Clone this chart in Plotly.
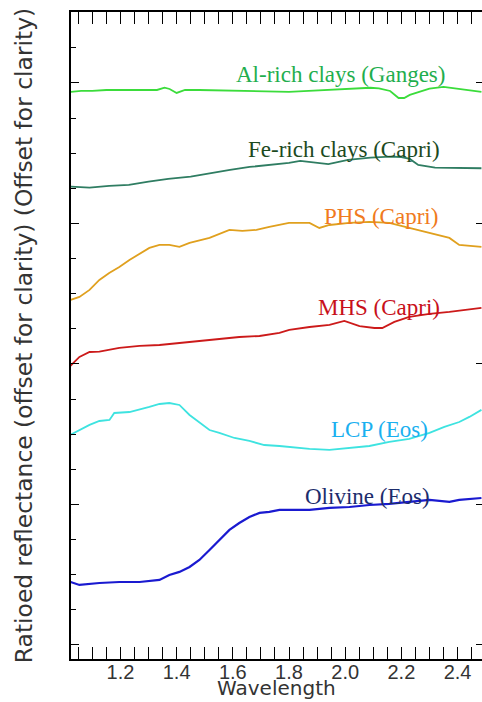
import plotly.graph_objects as go

# ---- data (wavelength in microns, ratioed reflectance offset for clarity) ----
al_wl = [1.022, 1.06, 1.10, 1.15, 1.20, 1.26, 1.33, 1.357, 1.375, 1.40, 1.43, 1.48, 1.55, 1.62,
         1.70, 1.80, 1.87, 1.95, 2.03, 2.09, 2.12, 2.16, 2.19, 2.21, 2.23, 2.27, 2.30, 2.35,
         2.40, 2.44, 2.485]
al_val = [3.936, 3.943, 3.943, 3.950, 3.950, 3.950, 3.950, 3.966, 3.957, 3.929, 3.950, 3.950,
          3.947, 3.943, 3.936, 3.936, 3.943, 3.950, 3.957, 3.966, 3.962, 3.943, 3.893, 3.893,
          3.915, 3.943, 3.960, 3.972, 3.957, 3.950, 3.936]

fe_wl = [1.022, 1.09, 1.16, 1.23, 1.30, 1.37, 1.45, 1.52, 1.59, 1.66, 1.73, 1.77, 1.80, 1.84,
         1.91, 1.94, 2.01, 2.09, 2.16, 2.20, 2.23, 2.26, 2.32, 2.39, 2.485]
fe_val = [3.262, 3.255, 3.267, 3.274, 3.298, 3.317, 3.333, 3.359, 3.381, 3.402, 3.416, 3.427,
          3.431, 3.445, 3.431, 3.423, 3.452, 3.468, 3.475, 3.473, 3.459, 3.416, 3.397, 3.397,
          3.393]

phs_wl = [1.022, 1.054, 1.09, 1.125, 1.16, 1.196, 1.232, 1.268, 1.303, 1.339, 1.374, 1.41,
          1.446, 1.517, 1.588, 1.634, 1.684, 1.73, 1.766, 1.80, 1.873, 1.908, 1.944, 2.015,
          2.086, 2.157, 2.228, 2.30, 2.371, 2.406, 2.485]
phs_val = [2.456, 2.477, 2.527, 2.598, 2.648, 2.690, 2.740, 2.783, 2.826, 2.847, 2.847, 2.833,
           2.861, 2.897, 2.954, 2.947, 2.954, 2.975, 2.989, 3.004, 3.004, 2.968, 2.989, 3.004,
           3.011, 3.004, 2.968, 2.932, 2.897, 2.847, 2.833]

mhs_wl = [1.022, 1.054, 1.09, 1.125, 1.196, 1.268, 1.339, 1.41, 1.481, 1.552, 1.623, 1.695,
          1.766, 1.801, 1.873, 1.944, 1.997, 2.051, 2.104, 2.132, 2.175, 2.228, 2.30, 2.371,
          2.442, 2.485]
mhs_val = [1.986, 2.050, 2.085, 2.088, 2.114, 2.128, 2.135, 2.149, 2.164, 2.178, 2.192, 2.199,
           2.221, 2.242, 2.263, 2.278, 2.306, 2.270, 2.256, 2.256, 2.299, 2.335, 2.356, 2.370,
           2.391, 2.399]

lcp_wl = [1.022, 1.054, 1.09, 1.125, 1.161, 1.178, 1.232, 1.303, 1.339, 1.374, 1.41, 1.446,
          1.481, 1.517, 1.552, 1.606, 1.659, 1.712, 1.766, 1.801, 1.873, 1.944, 2.015, 2.086,
          2.157, 2.228, 2.30, 2.353, 2.406, 2.442, 2.485]
lcp_val = [1.495, 1.530, 1.566, 1.594, 1.601, 1.651, 1.658, 1.694, 1.715, 1.722, 1.708, 1.637,
           1.587, 1.530, 1.509, 1.473, 1.452, 1.423, 1.416, 1.409, 1.395, 1.388, 1.402, 1.416,
           1.445, 1.466, 1.509, 1.552, 1.587, 1.623, 1.673]

oli_wl = [1.022, 1.054, 1.125, 1.196, 1.268, 1.339, 1.374, 1.41, 1.446, 1.481, 1.517, 1.552,
          1.588, 1.623, 1.659, 1.695, 1.73, 1.766, 1.873, 1.944, 2.015, 2.086, 2.157, 2.228,
          2.30, 2.371, 2.406, 2.485]
oli_val = [0.448, 0.427, 0.441, 0.448, 0.448, 0.463, 0.498, 0.520, 0.555, 0.605, 0.676, 0.747,
           0.819, 0.868, 0.911, 0.940, 0.947, 0.961, 0.961, 0.975, 0.982, 0.996, 1.004, 1.018,
           1.032, 1.018, 1.032, 1.046]

labels = ["Al-rich clays (Ganges)", "Fe-rich clays (Capri)", "PHS (Capri)", "MHS (Capri)",
          "LCP (Eos)", "Olivine (Eos)"]
label_x = [1.983, 1.994, 2.129, 2.122, 2.122, 2.079]
label_y = [4.057, 3.523, 3.046, 2.399, 1.530, 1.060]

x_ticks = [1.2, 1.4, 1.6, 1.8, 2.0, 2.2, 2.4]
x_ticklabels = ["1.2", "1.4", "1.6", "1.8", "2.0", "2.2", "2.4"]

series = [
    (al_wl, al_val, "#3bdc3b", 1.8),
    (fe_wl, fe_val, "#2f7d62", 1.8),
    (phs_wl, phs_val, "#e0a01e", 1.8),
    (mhs_wl, mhs_val, "#cc1a1a", 1.8),
    (lcp_wl, lcp_val, "#3ee3e0", 1.8),
    (oli_wl, oli_val, "#1a1ad0", 2.2),
]
label_colors = ["#1fae4e", "#1c4a1e", "#f07a20", "#c8101a", "#1ab0f0", "#1c2c6c"]

xr = [1.024, 2.487]
yr = [-0.1, 4.505]

fig = go.Figure()
for wl, val, col, w in series:
    fig.add_trace(go.Scatter(x=wl, y=val, mode="lines", line=dict(color=col, width=w),
                             showlegend=False, hoverinfo="skip"))
# invisible trace so the right-side tick axis gets drawn
fig.add_trace(go.Scatter(x=xr, y=yr, yaxis="y2", mode="lines", opacity=0,
                         showlegend=False, hoverinfo="skip"))

for t, xv, yv, c in zip(labels, label_x, label_y, label_colors):
    fig.add_annotation(x=xv, y=yv, text=t, showarrow=False, xanchor="center", yanchor="middle",
                       font=dict(family="Liberation Serif", size=23, color=c))

fig.add_annotation(x=0.5, y=0, xref="paper", yref="paper", text="Wavelength", showarrow=False,
                   xanchor="center", yanchor="top", yshift=-15,
                   font=dict(family="DejaVu Sans", size=20, color="#333333"))

axis_font = dict(family="Liberation Sans", size=20, color="#333333")
fig.update_layout(
    width=482, height=702,
    margin=dict(l=71, r=0, t=12, b=43),
    paper_bgcolor="white", plot_bgcolor="white", showlegend=False,
    xaxis=dict(range=xr, tickvals=x_ticks, ticktext=x_ticklabels, automargin=False,
               ticks="inside", ticklen=12, tickwidth=1.3, tickcolor="black",
               ticklabelstandoff=-6,
               minor=dict(dtick=0.05, tick0=1.0, ticks="inside", ticklen=5, tickwidth=1.3,
                          tickcolor="black", showgrid=False),
               showline=True, linecolor="black", linewidth=1.8, mirror="allticks",
               showgrid=False, zeroline=False, tickfont=axis_font),
    yaxis=dict(range=yr, dtick=1, tick0=0, ticks="inside", ticklen=8, automargin=False,
               tickwidth=1.3, tickcolor="black",
               minor=dict(dtick=0.25, tick0=0, ticks="inside", ticklen=5, tickwidth=1.3,
                          tickcolor="black", showgrid=False),
               showline=True, linecolor="black", linewidth=2, showticklabels=False,
               showgrid=False, zeroline=False,
               title=dict(text="Ratioed reflectance (offset for clarity) (Offset for clarity)",
                          font=dict(family="DejaVu Sans", size=23.4, color="#333333"),
                          standoff=30)),
    yaxis2=dict(range=yr, dtick=1, tick0=0, overlaying="y", side="right", anchor="x",
                automargin=False, ticks="inside", ticklen=6, tickwidth=1.3, tickcolor="black",
                showline=False, showgrid=False, zeroline=False, showticklabels=False),
)

fig.write_html("out.html", config={"displayModeBar": False},
               post_script="document.body.style.margin='0';")
